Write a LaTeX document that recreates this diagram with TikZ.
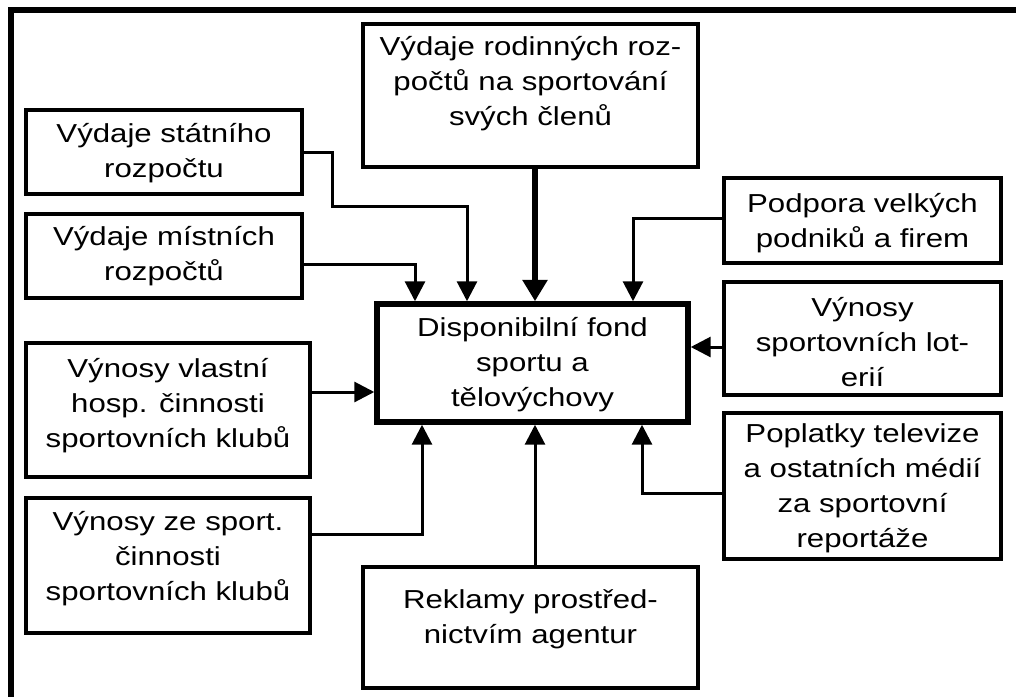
\documentclass[tikz,border=0pt]{standalone}
\usepackage{fontspec}
\setmainfont{Liberation Sans}[FakeStretch=1.2]
\usetikzlibrary{arrows.meta,calc}
\newcommand\bxt[4]{\parbox[c][#2][t]{#1}{\centering\rule{0pt}{#3}#4\par}}
\begin{document}
\begin{tikzpicture}[x=0.75pt,y=-0.75pt,
  box/.style={draw=black,line width=2.3pt,inner sep=0pt,font={\fontsize{19.5pt}{26.25pt}\selectfont}},
  mainbox/.style={box,line width=4.1pt},
  conn/.style={draw=black,line width=2.25pt,-{Triangle[length=15pt,width=15pt]}},
  thickconn/.style={draw=black,line width=4.9pt,-{Triangle[length=16pt,width=18pt]}},
  frame/.style={draw=black,line width=4.3pt}]
\useasboundingbox (0,0) rectangle (1016,696);
\fill[white] (0,0) rectangle (1016,696);
\draw[frame] (1030,10) -- (11,10) -- (11,710);

\node[box] (rod) at (530.5,95.5) {\bxt{251.25pt}{107.25pt}{23.5pt}{Výdaje rodinných roz-\\počtů na sportování\\svých členů}};
\node[box] (stat) at (164,152) {\bxt{207pt}{63pt}{24pt}{Výdaje státního\\rozpočtu}};
\node[box] (mist) at (164,256) {\bxt{207pt}{63pt}{23.25pt}{Výdaje místních\\rozpočtů}};
\node[box] (vlast) at (168,410) {\bxt{213pt}{100.5pt}{25.5pt}{Výnosy vlastní\\hosp. činnosti\\sportovních klubů}};
\node[box] (zesport) at (168,565.5) {\bxt{213pt}{101.25pt}{24.5pt}{Výnosy ze sport.\\činnosti\\sportovních klubů}};
\node[mainbox] (ctr) at (532.5,363) {\bxt{233.25pt}{88.5pt}{24pt}{Disponibilní fond\\sportu a\\tělovýchovy}};
\node[box] (rekl) at (530.5,627.5) {\bxt{251.25pt}{90.75pt}{31pt}{Reklamy prostřed-\\nictvím agentur}};
\node[box] (podp) at (862.5,220.5) {\bxt{207.75pt}{63.75pt}{26pt}{Podpora velkých\\podniků a firem}};
\node[box] (lot) at (862.5,338.5) {\bxt{207.75pt}{84.75pt}{25.5pt}{Výnosy\\sportovních lot-\\erií}};
\node[box] (popl) at (862.5,486) {\bxt{207.75pt}{109.5pt}{22pt}{Poplatky televize\\a ostatních médií\\za sportovní\\reportáže}};

\coordinate (s1) at (332,152);
\coordinate (s2) at (332,206);
\coordinate (s3) at (467,206);
\draw[conn] (stat.east) -- (s1) -- (s2) -- (s3) -- (s3 |- ctr.north);
\coordinate (m1) at (415,264);
\draw[conn] (mist.east |- m1) -- (m1) -- (m1 |- ctr.north);
\coordinate (r1) at (535,200);
\draw[thickconn] (r1 |- rod.south) -- (r1 |- ctr.north);
\coordinate (p1) at (633,218);
\draw[conn] (podp.west |- p1) -- (p1) -- (p1 |- ctr.north);
\coordinate (l1) at (700,347);
\draw[conn] (lot.west |- l1) -- (ctr.east |- l1);
\coordinate (v1) at (340,392);
\draw[conn] (vlast.east |- v1) -- (ctr.west |- v1);
\coordinate (q1) at (642,493);
\draw[conn] (popl.west |- q1) -- (q1) -- (q1 |- ctr.south);
\coordinate (z1) at (422,534);
\draw[conn] (zesport.east |- z1) -- (z1) -- (z1 |- ctr.south);
\coordinate (k1) at (535,500);
\draw[conn] (k1 |- rekl.north) -- (k1 |- ctr.south);
\end{tikzpicture}
\end{document}
